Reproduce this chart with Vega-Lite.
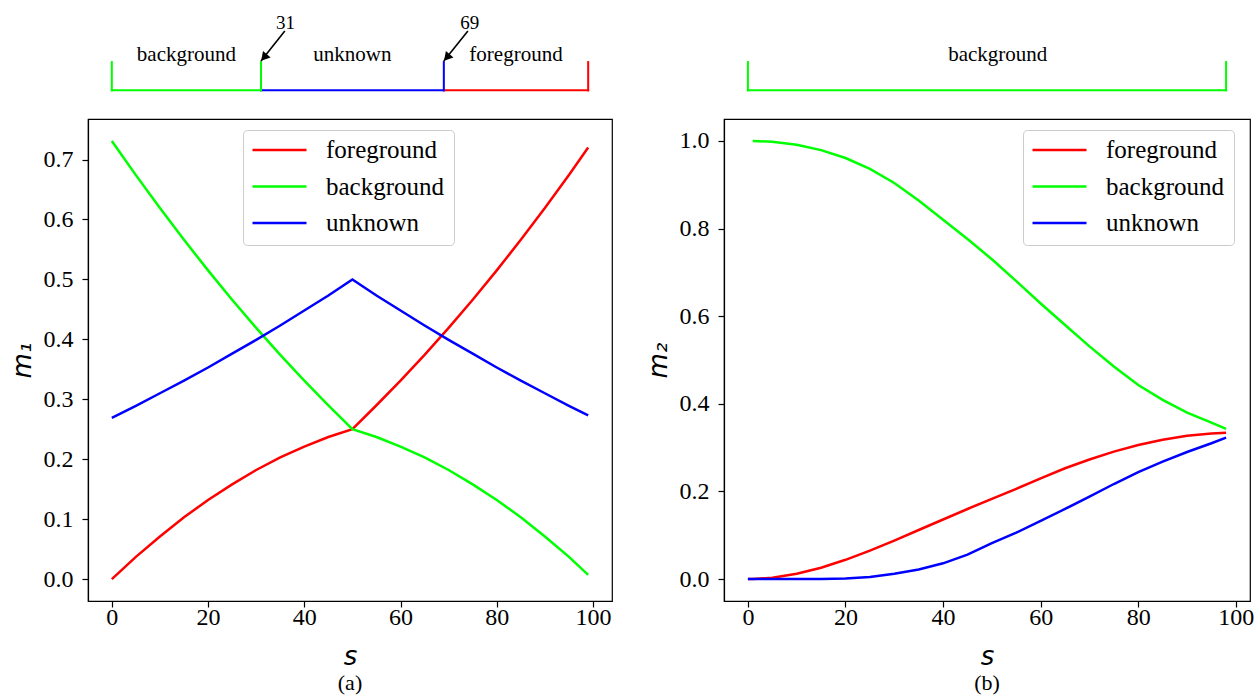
{
  "$schema": "https://vega.github.io/schema/vega-lite/v6.json",
  "background": "white",
  "padding": {"left": 8, "top": 12, "right": 0, "bottom": 0},
  "bounds": "flush",
  "spacing": 112,
  "resolve": {"scale": {"x": "independent", "y": "independent", "color": "independent"}, "legend": {"color": "independent"}},
  "config": {
    "view": {"stroke": "black", "strokeWidth": 1.2},
    "axis": {"labelFont": "Liberation Serif", "labelFontSize": 24, "labelColor": "black", "tickColor": "black", "tickSize": 6, "tickWidth": 1.2, "domainColor": "black", "domainWidth": 1.2, "grid": false, "titleFont": "DejaVu Sans", "titleFontSize": 26, "titleFontStyle": "italic", "titleFontWeight": "normal", "titleColor": "black", "labelFlush": false, "labelOverlap": false},
    "axisX": {"labelPadding": -2, "titlePadding": 14},
    "axisY": {"labelPadding": 9, "titlePadding": 8},
    "legend": {"labelFont": "Liberation Serif", "labelFontSize": 25, "labelColor": "black", "symbolType": "stroke", "symbolSize": 2916, "symbolStrokeWidth": 2.5, "strokeColor": "#cccccc", "fillColor": "white", "cornerRadius": 4, "padding": 9, "clipHeight": 22, "rowPadding": 11.5, "labelOffset": 18, "symbolOffset": -1},
    "title": {"font": "Liberation Serif", "fontSize": 22, "fontWeight": "normal", "color": "black", "orient": "bottom", "anchor": "middle", "offset": 4}
  },
  "datasets": {
    "a": [
      {"s": 0, "foreground": 0.000, "background": 0.731, "unknown": 0.269},
      {"s": 5, "foreground": 0.037, "background": 0.674, "unknown": 0.289},
      {"s": 10, "foreground": 0.071, "background": 0.619, "unknown": 0.310},
      {"s": 15, "foreground": 0.103, "background": 0.566, "unknown": 0.331},
      {"s": 20, "foreground": 0.132, "background": 0.515, "unknown": 0.353},
      {"s": 25, "foreground": 0.158, "background": 0.466, "unknown": 0.376},
      {"s": 30, "foreground": 0.182, "background": 0.419, "unknown": 0.399},
      {"s": 35, "foreground": 0.203, "background": 0.374, "unknown": 0.423},
      {"s": 40, "foreground": 0.221, "background": 0.331, "unknown": 0.448},
      {"s": 45, "foreground": 0.237, "background": 0.290, "unknown": 0.473},
      {"s": 50, "foreground": 0.250, "background": 0.250, "unknown": 0.500},
      {"s": 55, "foreground": 0.290, "background": 0.237, "unknown": 0.473},
      {"s": 60, "foreground": 0.331, "background": 0.221, "unknown": 0.448},
      {"s": 65, "foreground": 0.374, "background": 0.203, "unknown": 0.423},
      {"s": 70, "foreground": 0.419, "background": 0.182, "unknown": 0.399},
      {"s": 75, "foreground": 0.466, "background": 0.158, "unknown": 0.376},
      {"s": 80, "foreground": 0.515, "background": 0.132, "unknown": 0.353},
      {"s": 85, "foreground": 0.566, "background": 0.103, "unknown": 0.331},
      {"s": 90, "foreground": 0.619, "background": 0.071, "unknown": 0.310},
      {"s": 95, "foreground": 0.674, "background": 0.037, "unknown": 0.289},
      {"s": 99, "foreground": 0.720, "background": 0.007, "unknown": 0.273}
    ],
    "b": [
      {"s": 0, "foreground": 0.000, "background": null, "unknown": 0.000},
      {"s": 1, "foreground": 0.0001, "background": 1.000, "unknown": 0.000},
      {"s": 5, "foreground": 0.003, "background": 0.998, "unknown": 0.000},
      {"s": 10, "foreground": 0.012, "background": 0.991, "unknown": 0.000},
      {"s": 15, "foreground": 0.026, "background": 0.979, "unknown": 0.0003},
      {"s": 20, "foreground": 0.044, "background": 0.961, "unknown": 0.0015},
      {"s": 25, "foreground": 0.065, "background": 0.936, "unknown": 0.005},
      {"s": 30, "foreground": 0.088, "background": 0.904, "unknown": 0.012},
      {"s": 35, "foreground": 0.112, "background": 0.864, "unknown": 0.022},
      {"s": 40, "foreground": 0.136, "background": 0.820, "unknown": 0.036},
      {"s": 45, "foreground": 0.160, "background": 0.776, "unknown": 0.056},
      {"s": 50, "foreground": 0.183, "background": 0.730, "unknown": 0.082},
      {"s": 55, "foreground": 0.206, "background": 0.680, "unknown": 0.106},
      {"s": 60, "foreground": 0.230, "background": 0.629, "unknown": 0.133},
      {"s": 65, "foreground": 0.253, "background": 0.580, "unknown": 0.160},
      {"s": 70, "foreground": 0.273, "background": 0.531, "unknown": 0.188},
      {"s": 75, "foreground": 0.291, "background": 0.485, "unknown": 0.217},
      {"s": 80, "foreground": 0.306, "background": 0.443, "unknown": 0.244},
      {"s": 85, "foreground": 0.318, "background": 0.409, "unknown": 0.268},
      {"s": 90, "foreground": 0.327, "background": 0.380, "unknown": 0.290},
      {"s": 95, "foreground": 0.332, "background": 0.357, "unknown": 0.310},
      {"s": 98, "foreground": 0.334, "background": 0.343, "unknown": 0.323}
    ],
    "segA": [
      {"label": "background", "s1": 0, "s2": 31},
      {"label": "unknown", "s1": 31, "s2": 69},
      {"label": "foreground", "s1": 69, "s2": 99}
    ],
    "tickA": [
      {"label": "background", "s": 0},
      {"label": "background", "s": 31},
      {"label": "unknown", "s": 69},
      {"label": "foreground", "s": 99}
    ],
    "textA": [
      {"label": "background", "s": 15.5},
      {"label": "unknown", "s": 50},
      {"label": "foreground", "s": 84}
    ],
    "arrowA": [
      {"num": "31", "s_tail": 35.95, "s_head": 31, "s_text": 36.1},
      {"num": "69", "s_tail": 74.0, "s_head": 69, "s_text": 74.4}
    ],
    "segB": [
      {"label": "background", "s1": 0, "s2": 98}
    ],
    "tickB": [
      {"label": "background", "s": 0},
      {"label": "background", "s": 98}
    ],
    "textB": [
      {"label": "background", "s": 51.2}
    ]
  },
  "hconcat": [
    {
      "width": 524,
      "height": 482,
      "title": {"text": "(a)"},
      "layer": [
        {
          "data": {"name": "a"},
          "transform": [{"fold": ["foreground", "background", "unknown"], "as": ["label", "m"]}],
          "mark": {"type": "line", "strokeWidth": 2.5},
          "encoding": {
            "x": {"field": "s", "type": "quantitative", "scale": {"domain": [-4.95, 103.95], "nice": false, "zero": false}, "axis": {"values": [0, 20, 40, 60, 80, 100], "format": "d", "title": "s"}},
            "y": {"field": "m", "type": "quantitative", "scale": {"domain": [-0.0366, 0.7676], "nice": false, "zero": false}, "axis": {"values": [0, 0.1, 0.2, 0.3, 0.4, 0.5, 0.6, 0.7], "format": ".1f", "title": "m₁"}},
            "color": {"field": "label", "type": "nominal", "scale": {"domain": ["foreground", "background", "unknown"], "range": ["#ff0000", "#00ff00", "#0000ff"]}, "legend": {"orient": "none", "legendX": 155, "legendY": 11, "title": null}}
          }
        },
        {
          "data": {"name": "segA"},
          "mark": {"type": "rule", "strokeWidth": 2, "clip": false, "strokeCap": "square"},
          "encoding": {
            "x": {"field": "s1", "type": "quantitative"},
            "x2": {"field": "s2"},
            "y": {"datum": 0.8154, "type": "quantitative"},
            "color": {"field": "label", "type": "nominal"}
          }
        },
        {
          "data": {"name": "tickA"},
          "mark": {"type": "rule", "strokeWidth": 2, "clip": false, "strokeCap": "square"},
          "encoding": {
            "x": {"field": "s", "type": "quantitative"},
            "y": {"datum": 0.8154, "type": "quantitative"},
            "y2": {"datum": 0.8626},
            "color": {"field": "label", "type": "nominal"}
          }
        },
        {
          "data": {"name": "textA"},
          "mark": {"type": "text", "font": "Liberation Serif", "fontSize": 21, "baseline": "alphabetic", "align": "center", "clip": false, "color": "black"},
          "encoding": {
            "x": {"field": "s", "type": "quantitative"},
            "y": {"datum": 0.8643, "type": "quantitative"},
            "text": {"field": "label"}
          }
        },
        {
          "data": {"name": "arrowA"},
          "mark": {"type": "rule", "strokeWidth": 1.6, "clip": false, "color": "black"},
          "encoding": {
            "x": {"field": "s_tail", "type": "quantitative"},
            "x2": {"field": "s_head"},
            "y": {"datum": 0.9145, "type": "quantitative"},
            "y2": {"datum": 0.8643}
          }
        },
        {
          "data": {"name": "arrowA"},
          "mark": {"type": "point", "shape": "triangle-up", "filled": true, "size": 100, "angle": 221, "xOffset": 3, "yOffset": -3.5, "clip": false, "color": "black", "opacity": 1},
          "encoding": {
            "x": {"field": "s_head", "type": "quantitative"},
            "y": {"datum": 0.8643, "type": "quantitative"}
          }
        },
        {
          "data": {"name": "arrowA"},
          "mark": {"type": "text", "font": "Liberation Serif", "fontSize": 19, "baseline": "alphabetic", "align": "center", "clip": false, "color": "black"},
          "encoding": {
            "x": {"field": "s_text", "type": "quantitative"},
            "y": {"datum": 0.9185, "type": "quantitative"},
            "text": {"field": "num"}
          }
        }
      ]
    },
    {
      "width": 526,
      "height": 482,
      "title": {"text": "(b)"},
      "layer": [
        {
          "data": {"name": "b"},
          "transform": [{"fold": ["foreground", "background", "unknown"], "as": ["label", "m"]}],
          "mark": {"type": "line", "strokeWidth": 2.5},
          "encoding": {
            "x": {"field": "s", "type": "quantitative", "scale": {"domain": [-4.9, 102.9], "nice": false, "zero": false}, "axis": {"values": [0, 20, 40, 60, 80, 100], "format": "d", "title": "s"}},
            "y": {"field": "m", "type": "quantitative", "scale": {"domain": [-0.05, 1.05], "nice": false, "zero": false}, "axis": {"values": [0, 0.2, 0.4, 0.6, 0.8, 1.0], "format": ".1f", "title": "m₂"}},
            "color": {"field": "label", "type": "nominal", "scale": {"domain": ["foreground", "background", "unknown"], "range": ["#ff0000", "#00ff00", "#0000ff"]}, "legend": {"orient": "none", "legendX": 299, "legendY": 11, "title": null}}
          }
        },
        {
          "data": {"name": "segB"},
          "mark": {"type": "rule", "strokeWidth": 2, "clip": false, "strokeCap": "square"},
          "encoding": {
            "x": {"field": "s1", "type": "quantitative"},
            "x2": {"field": "s2"},
            "y": {"datum": 1.1155, "type": "quantitative"},
            "color": {"field": "label", "type": "nominal"}
          }
        },
        {
          "data": {"name": "tickB"},
          "mark": {"type": "rule", "strokeWidth": 2, "clip": false, "strokeCap": "square"},
          "encoding": {
            "x": {"field": "s", "type": "quantitative"},
            "y": {"datum": 1.1155, "type": "quantitative"},
            "y2": {"datum": 1.180},
            "color": {"field": "label", "type": "nominal"}
          }
        },
        {
          "data": {"name": "textB"},
          "mark": {"type": "text", "font": "Liberation Serif", "fontSize": 21, "baseline": "alphabetic", "align": "center", "clip": false, "color": "black"},
          "encoding": {
            "x": {"field": "s", "type": "quantitative"},
            "y": {"datum": 1.1824, "type": "quantitative"},
            "text": {"field": "label"}
          }
        }
      ]
    }
  ]
}
